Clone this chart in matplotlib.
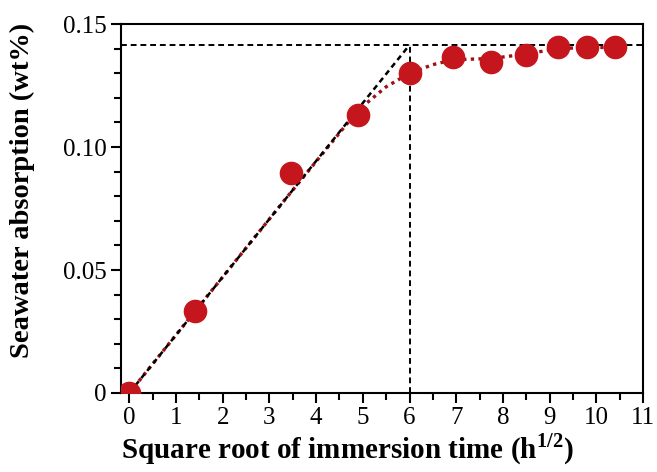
import matplotlib
matplotlib.use("Agg")
import matplotlib.pyplot as plt
from matplotlib.ticker import MultipleLocator, FixedLocator

plt.rcParams['font.family'] = ['Liberation Serif', 'DejaVu Serif']
plt.rcParams['mathtext.fontset'] = 'custom'
plt.rcParams['mathtext.rm'] = 'Liberation Serif'
plt.rcParams['mathtext.bf'] = 'Liberation Serif:bold'

# data
sqrt_time = [0, 1.41, 3.46, 4.90, 6.00, 6.93, 7.75, 8.49, 9.17, 9.80, 10.39]
absorption = [0.0, 0.0335, 0.0894, 0.113, 0.130, 0.1365, 0.1347, 0.1374, 0.1408, 0.1405, 0.1405]
# fitted (red dotted) curve
fit_x = [0, 1.41, 3.46, 4.90, 5.50, 6.00, 6.50, 6.93, 7.75, 8.49, 9.17, 9.80, 10.39]
fit_y = [0.0, 0.0333, 0.0816, 0.1150, 0.1245, 0.1300, 0.1335, 0.1355, 0.1360, 0.1378, 0.1400, 0.1405, 0.1405]
saturation = 0.1415
knee_x = 6.0
x_ticks = list(range(0, 12))
y_ticks = [0, 0.05, 0.10, 0.15]
y_ticklabels = ["0", "0.05", "0.10", "0.15"]

fig = plt.figure(figsize=(6.57, 4.72), dpi=100)
ax = fig.add_axes([0.1837, 0.1674, 0.795, 0.7816])

ax.set_xlim(-0.185, 11)
ax.set_ylim(0, 0.15)

red = '#c4161c'
dark_red = '#a01015'
# guide lines
ax.plot([-0.185, 11], [saturation, saturation], color='black', lw=1.4, ls=(0, (3, 2)), zorder=2)
ax.plot([knee_x, knee_x], [0, saturation], color='black', lw=1.4, ls=(0, (3, 2)), zorder=2)
# fitted curve
ax.plot(fit_x, fit_y, color=dark_red, lw=2.4, ls=(0, (1, 1.3)), zorder=2.5)
ax.plot([0, knee_x], [0, saturation], color='black', lw=1.8, ls=(0, (2.2, 1.6)), zorder=3)
# data
ax.plot(sqrt_time, absorption, ls='none', marker='o', ms=16, color=red,
        markeredgecolor=red, zorder=4)

ax.xaxis.set_major_locator(FixedLocator(x_ticks))
ax.xaxis.set_minor_locator(MultipleLocator(0.5))
ax.yaxis.set_major_locator(FixedLocator(y_ticks))
ax.set_yticklabels(y_ticklabels)
ax.yaxis.set_minor_locator(MultipleLocator(0.01))

ax.tick_params(axis='both', which='major', direction='out', length=7, width=1.5,
               labelsize=18, pad=3)
ax.tick_params(axis='both', which='minor', direction='out', length=5, width=1.5)
ax.tick_params(top=False, right=False)
for s in ax.spines.values():
    s.set_linewidth(1.5)

ax.set_xlabel(r"Square root of immersion time (h$^{\mathbf{1/2}}$)", fontsize=21,
              fontweight='bold')
ax.set_ylabel("Seawater absorption (wt%)", fontsize=20.5, fontweight='bold')
ax.xaxis.set_label_coords(0.433, -0.105)
ax.yaxis.set_label_coords(-0.165, 0.55)

fig.savefig("out.png", dpi=100)
